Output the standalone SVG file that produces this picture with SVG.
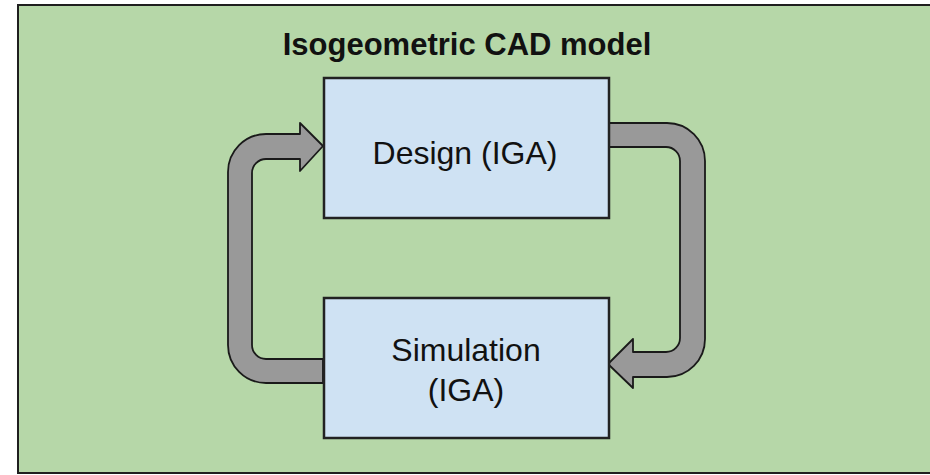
<svg xmlns="http://www.w3.org/2000/svg" width="930" height="475" viewBox="0 0 930 475">
  <style>
    .frame { fill: #b6d7a8; stroke: #1f1f1f; stroke-width: 2; }
    .box { fill: #cfe2f3; stroke: #222222; stroke-width: 2.5; }
    .label { font-family: "Liberation Sans", Arial, sans-serif; fill: #111111; text-anchor: middle; }
    .title { font-size: 31px; font-weight: bold; }
    .body { font-size: 32px; }
    .arrow { fill: #999999; stroke: #1a1a1a; stroke-width: 1.8; stroke-linejoin: round; }
  </style>

  <!-- outer container -->
  <g id="container">
    <rect class="frame" x="18" y="5" width="930" height="468"/>
    <text class="label title" x="467" y="55">Isogeometric CAD model</text>
  </g>

  <!-- feedback loop arrows -->
  <g id="connectors">
    <path class="arrow" d="M 323,359 H 266 A 14 14 0 0 1 252,345 V 173 A 14 14 0 0 1 266,159 H 300 V 171 L 323,146 L 300,123 V 134 H 266 A 38 38 0 0 0 228,172 V 345 A 38 38 0 0 0 266,383 H 323 Z"/>
    <path class="arrow" d="M 609,123 H 667 A 38 38 0 0 1 705,161 V 339 A 38 38 0 0 1 667,377 H 633 V 388 L 608,364 L 633,339 V 352 H 666 A 14 14 0 0 0 680,338 V 161 A 14 14 0 0 0 666,147 H 609 Z"/>
  </g>

  <g id="design">
    <rect class="box" x="324" y="78" width="285" height="140"/>
    <text class="label body" x="465" y="164">Design (IGA)</text>
  </g>

  <g id="simulation">
    <rect class="box" x="324" y="298" width="285" height="140"/>
    <text class="label body" x="466" y="361">Simulation</text>
    <text class="label body" x="466" y="401">(IGA)</text>
  </g>
</svg>
